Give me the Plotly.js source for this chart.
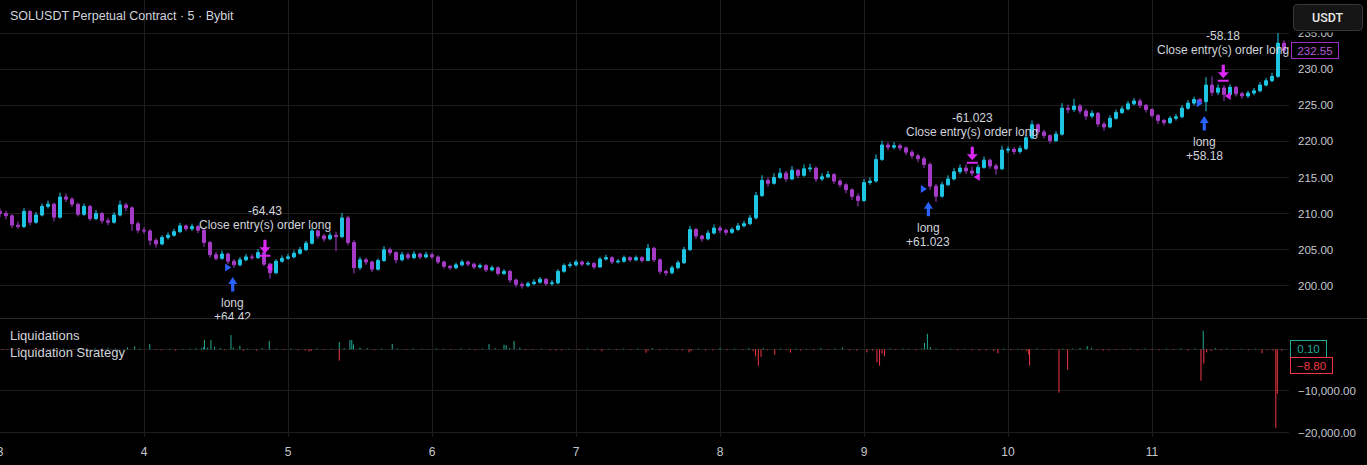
<!DOCTYPE html>
<html><head><meta charset="utf-8">
<script src="https://cdn.plot.ly/plotly-3.0.1.min.js"></script>
<style>html,body{margin:0;padding:0;background:#000;}#chart{width:1367px;height:465px;}</style>
</head><body><div id="chart"></div>
<script>
// ---------- DATA ----------
const chartTitle = 'SOLUSDT Perpetual Contract · 5 · Bybit';
const dayTicks = [3,4,5,6,7,8,9,10,11];
const dayTickText = ['3','4','5','6','7','8','9','10','11'];
const priceTicks = [200,205,210,215,220,225,230,235];
const liqTicks = [0,-10000,-20000];
const liqTickText = ['','−10,000.00','−20,000.00'];

// hourly candles starting on day 3
const startDay = 3;
const firstOpen = 210.3;
const closeD3 = [210.0,209.7,208.4,208.2,210.3,208.8,209.8,211.0,211.3,209.5,212.3,212.0,211.3,209.9,211.0,209.3,210.0,209.0,208.8,209.8,211.2,210.8,208.6,207.7];
const highD3  = [210.7,210.4,209.9,208.9,210.8,210.5,210.2,211.4,211.8,211.5,212.9,212.8,212.3,211.5,211.4,211.2,210.5,210.2,209.4,210.2,211.8,211.5,211.0,208.9];
const lowD3   = [209.5,209.2,208.0,207.9,208.0,208.4,208.6,209.6,210.7,208.9,209.3,211.6,210.9,209.6,209.7,209.0,209.1,208.6,208.4,208.6,209.6,210.3,207.6,207.3];
const closeD4 = [207.6,206.3,205.8,206.7,207.0,207.5,208.3,207.9,208.2,207.7,206.0,204.3,203.8,204.4,203.4,202.9,203.6,204.0,203.9,204.6,203.0,201.8,203.4,203.8];
const highD4  = [208.1,207.8,206.6,207.0,207.4,207.9,208.7,208.5,208.6,208.4,208.0,206.2,204.7,204.9,204.6,203.7,204.0,204.4,204.4,205.1,204.8,203.2,203.7,204.2];
const lowD4   = [207.2,205.6,205.3,205.6,206.4,206.8,207.3,207.6,207.6,207.3,205.4,203.9,203.5,203.6,203.0,202.5,202.7,203.4,203.6,203.7,202.7,201.0,201.6,203.2];
const closeD5 = [204.0,204.5,205.0,205.9,207.6,206.9,206.5,207.0,206.8,209.4,206.0,202.5,203.6,203.3,202.3,203.5,205.0,204.6,203.6,204.3,203.9,204.4,204.0,204.3];
const highD5  = [204.4,204.9,205.4,206.2,208.0,207.8,207.2,207.4,207.5,210.1,209.7,206.3,204.0,203.9,203.5,203.8,205.5,205.3,204.8,204.7,204.6,204.8,204.6,204.7];
const lowD5   = [203.6,203.8,204.3,204.8,205.7,206.5,206.1,206.3,204.8,206.6,205.6,201.7,202.2,202.9,201.9,202.1,203.3,204.2,203.1,203.4,203.6,203.7,203.7,203.8];
const closeD6 = [204.0,203.3,202.7,202.5,202.9,203.3,203.0,202.6,202.8,202.2,202.5,201.7,202.0,200.8,200.2,200.0,200.3,200.5,200.9,200.3,200.4,202.0,202.8,202.9];
const highD6  = [204.6,204.2,203.5,202.9,203.2,203.6,203.5,203.2,203.1,203.0,202.8,202.7,202.3,202.2,201.0,200.5,200.6,200.9,201.2,201.1,200.8,202.3,203.1,203.3];
const lowD6   = [203.7,203.0,202.4,202.2,202.3,202.7,202.7,202.3,202.4,201.9,202.0,201.4,201.5,200.4,199.8,199.6,199.8,200.1,200.3,200.0,200.0,200.2,201.8,202.5];
const closeD7 = [203.3,203.0,203.1,202.6,203.7,203.9,203.3,203.4,203.9,203.6,203.9,203.5,205.2,203.6,202.0,201.8,202.5,203.2,205.0,207.8,206.9,206.5,207.3,208.0];
const highD7  = [203.6,203.5,203.4,203.3,204.0,204.3,204.1,203.7,204.2,204.1,204.2,204.1,205.8,205.4,203.8,202.2,202.8,203.5,205.4,208.3,208.0,207.1,207.7,208.5];
const lowD7   = [202.7,202.7,202.8,202.3,202.5,203.5,203.0,203.1,203.2,203.3,203.4,203.2,203.4,203.3,201.6,201.4,201.6,202.3,203.0,204.8,206.5,206.1,206.3,207.1];
const closeD8 = [207.7,207.4,207.8,208.3,208.6,209.4,212.5,214.6,214.2,215.0,215.6,214.8,216.0,215.3,216.2,216.3,214.8,215.1,215.4,214.5,214.0,213.3,212.4,211.8];
const highD8  = [208.3,207.9,208.1,208.7,209.0,209.8,213.0,215.3,215.0,215.6,216.3,215.9,216.6,216.2,216.8,216.9,216.5,215.6,215.9,215.6,214.8,214.2,213.5,212.8];
const lowD8   = [207.3,207.0,207.2,207.6,208.1,208.4,209.2,212.3,213.7,214.0,214.8,214.4,214.6,214.9,215.1,215.8,214.4,214.5,214.9,214.1,213.6,212.8,211.9,211.0];
const closeD9 = [214.3,214.5,217.5,219.5,219.2,219.4,219.1,218.5,218.0,217.6,216.8,213.8,212.4,214.0,214.8,215.8,216.3,215.9,215.6,216.4,217.4,216.6,216.2,218.8];
const highD9  = [214.8,215.0,218.2,220.1,219.9,219.9,219.7,219.3,218.8,218.3,217.9,217.1,214.1,214.4,215.3,216.3,216.8,216.8,216.5,216.8,217.9,217.6,216.9,219.4];
const lowD9   = [211.6,214.0,214.3,217.3,218.8,218.9,218.7,218.1,217.6,217.1,216.3,213.3,211.6,212.2,213.8,214.6,215.5,215.5,215.2,215.4,216.2,216.2,215.4,216.0];
const closeD10 = [218.9,218.6,219.0,220.5,222.3,221.3,220.8,220.1,221.0,224.6,224.4,224.9,224.2,223.5,223.9,222.4,222.0,223.2,224.0,224.5,225.2,225.6,225.0,224.4];
const highD10  = [219.3,219.2,219.4,220.9,222.9,222.5,221.6,221.0,221.4,225.3,225.1,225.9,225.2,224.5,224.3,224.1,222.7,223.6,224.4,224.9,225.6,226.0,225.9,225.2];
const lowD10   = [218.4,218.2,218.3,218.8,220.3,220.9,220.4,219.7,219.9,220.8,223.9,224.1,223.8,223.0,223.2,222.0,221.5,221.8,223.0,223.8,224.3,225.0,224.6,224.0];
const closeD11 = [223.6,222.9,222.6,223.2,223.4,224.6,225.3,225.8,225.5,227.8,226.8,227.4,226.5,227.5,226.6,226.3,226.7,227.0,227.8,228.4,229.0,233.6,232.55];
const highD11  = [224.6,223.8,223.1,223.5,223.8,225.0,225.7,226.2,226.0,228.9,229.0,227.9,227.8,227.9,227.7,226.9,227.0,227.4,228.2,228.8,229.5,235.0,234.0];
const lowD11   = [223.3,222.4,222.2,222.4,222.9,223.2,224.4,225.0,225.1,224.2,226.3,226.4,225.6,226.2,226.2,225.9,226.0,226.4,226.8,227.6,228.2,228.8,232.0];

// strategy trades
const tradeEntryDay   = [4.616, 9.447, 11.363];
const tradeEntryPrice = [202.55, 213.41, 225.28];
const tradeEntryLow   = [201.22, 211.65, 223.52];
const tradeEntryText  = ['+64.42', '+61.023', '+58.18'];
const tradeExitDay    = [4.840, 9.752, 11.495];
const tradeExitPrice  = [202.56, 215.07, 226.29];
const tradeExitHigh   = [204.17, 217.05, 228.41];
const tradeExitText   = ['-64.43', '-61.023', '-58.18'];

// liquidations (lower pane)
const liqDay = [
 3.02,3.05,3.09,3.12,3.16,3.20,3.24,3.27,3.30,3.35,
 3.38,3.44,3.50,3.55,3.60,3.66,3.70,3.75,3.80,3.885,
 3.935,3.97,4.04,4.08,4.12,4.18,4.22,4.27,4.32,4.36,
 4.40,4.415,4.42,4.44,4.465,4.49,4.53,4.56,4.604,4.62,
 4.666,4.69,4.72,4.78,4.82,4.87,4.92,4.97,5.02,5.07,
 5.12,5.146,5.16,5.20,5.25,5.30,5.356,5.356,5.39,5.43,
 5.443,5.455,5.50,5.55,5.60,5.65,5.724,5.76,5.82,5.87,
 5.93,5.98,6.03,6.08,6.13,6.20,6.26,6.30,6.35,6.396,
 6.44,6.50,6.515,6.54,6.57,6.61,6.65,6.70,6.76,6.82,
 6.86,6.90,6.95,7.02,7.08,7.13,7.18,7.23,7.28,7.33,
 7.38,7.43,7.486,7.50,7.53,7.58,7.63,7.70,7.74,7.785,
 7.80,7.85,7.90,7.95,8.00,8.05,8.10,8.16,8.20,8.23,
 8.247,8.266,8.285,8.30,8.33,8.38,8.42,8.46,8.49,8.53,
 8.56,8.60,8.65,8.70,8.75,8.80,8.85,8.90,8.95,9.02,
 9.06,9.09,9.108,9.125,9.142,9.18,9.22,9.27,9.31,9.36,
 9.40,9.42,9.44,9.46,9.50,9.55,9.60,9.65,9.70,9.75,
 9.80,9.85,9.90,9.93,9.97,10.02,10.07,10.10,10.13,10.144,
 10.15,10.20,10.25,10.30,10.354,10.38,10.414,10.45,10.50,10.55,
 10.58,10.62,10.66,10.70,10.75,10.80,10.85,10.90,10.95,11.00,
 11.05,11.10,11.15,11.20,11.25,11.30,11.34,11.356,11.36,11.38,
 11.41,11.44,11.48,11.52,11.57,11.62,11.67,11.72,11.764,11.80,
 11.84,11.86,11.87,11.90,11.915];
const liqValue = [
 -150,-120,-200,-150,-300,-180,-250,-120,200,-200,
 150,180,-150,250,150,200,-120,300,200,480,
 720,200,1280,-150,-200,150,-300,150,200,250,
 300,600,2240,400,2240,640,300,-200,3440,400,
 880,-320,200,-320,250,2000,150,-150,200,-200,
 -300,-480,-400,200,-150,150,1760,-2720,300,2240,
 2240,1200,400,250,-200,200,1280,200,-150,200,
 150,-120,200,150,-150,200,150,-200,200,1280,
 250,1120,1000,300,2000,400,-200,-150,150,-200,
 -300,-250,150,-150,200,-200,-480,150,-200,150,
 -150,200,-800,-300,300,-200,150,-200,-300,-720,
 -400,200,-300,-250,300,-200,200,-150,300,-400,
 -1680,-3920,-1840,300,-200,-1280,200,-200,-800,200,
 -250,150,-200,300,-150,200,400,-250,-300,-720,
 -300,-3120,-3920,-1000,-1600,200,-150,200,150,-200,
 200,1520,3760,560,200,-150,200,-200,150,-200,
 -300,-250,-400,-960,200,-200,150,-200,-400,-1280,
 -3920,200,-150,150,-10400,200,-4880,200,300,800,
 300,-200,-300,-250,-150,-150,200,-200,200,-150,
 -200,200,-150,250,-300,200,-7530,4480,-3440,-720,
 -400,300,-200,200,-150,150,-200,150,-960,-200,
 -300,-18900,-10700,-300,100];
const liqLastPos = '0.10';
const liqLastNeg = '−8.80';

// ---------- STYLE ----------
const UP = '#1fc6e4', DOWN = '#a53cc8';
const GREEN = '#22ab94', RED = '#f23645';
const BLUE = '#2962ff', MAGENTA = '#dc28f4';
const GRID = '#1e1e1e', TXT = '#d1d4dc', AX = '#c6c8ce';
const FONT = 'Liberation Sans, Arial, sans-serif';
const W = 1367, H = 465, PLOT_W = 1289, PLOT_H = 437;
const pxX = x => x / PLOT_W;
const pxY = p => (PLOT_H - p) / PLOT_H;

// ---------- BUILD ----------
const close = [].concat(closeD3,closeD4,closeD5,closeD6,closeD7,closeD8,closeD9,closeD10,closeD11);
const high  = [].concat(highD3,highD4,highD5,highD6,highD7,highD8,highD9,highD10,highD11);
const low   = [].concat(lowD3,lowD4,lowD5,lowD6,lowD7,lowD8,lowD9,lowD10,lowD11);
const open = close.map((c,i) => i === 0 ? firstOpen : close[i-1]);
const times = close.map((c,i) => startDay + i/24);

const gX=[], gY=[], rX=[], rY=[];
liqDay.forEach((d,i) => {
  const v = liqValue[i];
  if (v >= 0) { gX.push(d,d,null); gY.push(0,v,null); }
  else { rX.push(d,d,null); rY.push(0,v,null); }
});

const traces = [
  {type:'candlestick', x:times, open:open, high:high, low:low, close:close,
   xaxis:'x', yaxis:'y',
   increasing:{line:{color:UP,width:1}, fillcolor:UP},
   decreasing:{line:{color:DOWN,width:1}, fillcolor:DOWN},
   hoverinfo:'skip'},
  {type:'scatter', mode:'lines', x:gX, y:gY, xaxis:'x', yaxis:'y2',
   line:{color:GREEN,width:1}, connectgaps:false, hoverinfo:'skip'},
  {type:'scatter', mode:'lines', x:rX, y:rY, xaxis:'x', yaxis:'y2',
   line:{color:RED,width:1}, connectgaps:false, hoverinfo:'skip'}
];

function roundRectPath(x0,y0,x1,y1,r){
  const P=(x,y)=>pxX(x).toFixed(6)+','+pxY(y).toFixed(6);
  return 'M'+P(x0+r,y0)+'L'+P(x1-r,y0)+'Q'+P(x1,y0)+' '+P(x1,y0+r)+'L'+P(x1,y1-r)+
    'Q'+P(x1,y1)+' '+P(x1-r,y1)+'L'+P(x0+r,y1)+'Q'+P(x0,y1)+' '+P(x0,y1-r)+
    'L'+P(x0,y0+r)+'Q'+P(x0,y0)+' '+P(x0+r,y0)+'Z';
}

const ENTRY_MARK  = 'M-1.5,0L-7.5,4L-7.5,-4Z';
const ENTRY_ARROW = 'M0,0L4.5,-7L1.6,-7L1.6,-14.5L-1.6,-14.5L-1.6,-7L-4.5,-7Z';
const EXIT_MARK   = 'M1.5,0L7.5,4L7.5,-4Z';
const EXIT_ARROW  = 'M0,2.5L5.5,8.5L1.6,8.5L1.6,16L-1.6,16L-1.6,8.5L-5.5,8.5ZM-5.5,-1L5.5,-1L5.5,1L-5.5,1Z';
function pixShape(day, price, path, color){
  return {type:'path', xref:'x', yref:'y', xsizemode:'pixel', ysizemode:'pixel',
          xanchor:day, yanchor:price, path:path, fillcolor:color, line:{width:0}, layer:'above'};
}

const shapes = [
  {type:'line', xref:'paper', yref:'paper', x0:0, x1:W/PLOT_W, y0:pxY(318.5), y1:pxY(318.5),
   line:{color:'#2a2a2a', width:1}, layer:'above'},
  {type:'rect', xref:'paper', yref:'paper', x0:pxX(1289.5), x1:pxX(1368), y0:pxY(32.5), y1:pxY(-2),
   fillcolor:'#000', line:{width:0}, layer:'above'},
  {type:'path', xref:'paper', yref:'paper', path:roundRectPath(1293.5,4.5,1362.5,30.5,4),
   fillcolor:'#151515', line:{color:'#3a3a3a', width:1}, layer:'above'}
];
const annotations = [
  {xref:'paper', yref:'paper', x:pxX(8), y:pxY(16), xanchor:'left', yanchor:'middle', showarrow:false,
   text:chartTitle, font:{family:FONT, size:12.5, color:TXT}},
  {xref:'paper', yref:'paper', x:pxX(8), y:pxY(335.5), xanchor:'left', yanchor:'middle', showarrow:false,
   text:'Liquidations', font:{family:FONT, size:13, color:TXT}},
  {xref:'paper', yref:'paper', x:pxX(8), y:pxY(352.5), xanchor:'left', yanchor:'middle', showarrow:false,
   text:'Liquidation Strategy', font:{family:FONT, size:13, color:TXT}},
  {xref:'paper', yref:'paper', x:pxX(1328), y:pxY(17.5), xanchor:'center', yanchor:'middle', showarrow:false,
   text:'USDT', font:{family:'Roboto, sans-serif', size:12.5, color:'#e8e8e8', weight:500}},
  {xref:'paper', yref:'y', x:1, y:close[close.length-1], xanchor:'left', yanchor:'middle', xshift:2, showarrow:false,
   text:close[close.length-1].toFixed(2), width:44, height:13, borderpad:1, bgcolor:'#000',
   bordercolor:'#9c2cc4', borderwidth:1, font:{family:FONT, size:11.5, color:'#b95ad9'}},
  {xref:'paper', yref:'y2', x:1, y:0, xanchor:'left', yanchor:'middle', xshift:1, showarrow:false,
   text:liqLastPos, width:33, height:14, borderpad:1, bgcolor:'#000',
   bordercolor:GREEN, borderwidth:1, font:{family:FONT, size:11.5, color:GREEN}},
  {xref:'paper', yref:'y2', x:1, y:0, xanchor:'left', yanchor:'middle', xshift:1, yshift:-16.5, showarrow:false,
   text:liqLastNeg, width:39, height:13, borderpad:1, bgcolor:'#000',
   bordercolor:RED, borderwidth:1, font:{family:FONT, size:11.5, color:RED}}
];

tradeEntryDay.forEach((d,i) => {
  shapes.push(pixShape(d, tradeEntryPrice[i], ENTRY_MARK, BLUE));
  shapes.push(pixShape(d, tradeEntryLow[i], ENTRY_ARROW, BLUE));
  annotations.push({xref:'x', yref:'y', x:d, y:tradeEntryLow[i], yshift:-26.5, showarrow:false,
    xanchor:'center', yanchor:'middle', text:'long', font:{family:FONT, size:12, color:TXT}});
  annotations.push({xref:'x', yref:'y', x:d, y:tradeEntryLow[i], yshift:-40.5, showarrow:false,
    xanchor:'center', yanchor:'middle', text:tradeEntryText[i], font:{family:FONT, size:12, color:TXT}});
});
tradeExitDay.forEach((d,i) => {
  shapes.push(pixShape(d, tradeExitPrice[i], EXIT_MARK, MAGENTA));
  shapes.push(pixShape(d, tradeExitHigh[i], EXIT_ARROW, MAGENTA));
  annotations.push({xref:'x', yref:'y', x:d, y:tradeExitHigh[i], yshift:31, showarrow:false,
    xanchor:'center', yanchor:'middle', text:'Close entry(s) order long', font:{family:FONT, size:12, color:TXT}});
  annotations.push({xref:'x', yref:'y', x:d, y:tradeExitHigh[i], yshift:45, showarrow:false,
    xanchor:'center', yanchor:'middle', text:tradeExitText[i], font:{family:FONT, size:12, color:TXT}});
});
// the upper pane clips text that runs past its bottom edge
annotations.push({xref:'paper', yref:'paper', x:pxX(232), y:pxY(319.2), xanchor:'center', yanchor:'top',
  showarrow:false, text:' ', width:60, height:12, borderpad:0, bgcolor:'#000'});

const layout = {
  width:W, height:H,
  paper_bgcolor:'#000', plot_bgcolor:'#000',
  margin:{l:0, r:W-PLOT_W, t:0, b:H-PLOT_H, pad:0},
  showlegend:false,
  font:{family:FONT, size:11.5, color:AX},
  xaxis:{range:[startDay, startDay + PLOT_W/144], anchor:'y2', tickmode:'array', tickvals:dayTicks, ticktext:dayTickText,
         showgrid:true, gridcolor:GRID, gridwidth:1, zeroline:false, showline:false, ticks:'',
         ticklabeloverflow:'allow', ticklabelstandoff:6,
         rangeslider:{visible:false}, tickfont:{family:FONT, size:12, color:AX}},
  yaxis:{domain:[pxY(318), 1], range:[195.54, 239.58], side:'right', anchor:'x',
         tickmode:'array', tickvals:priceTicks, ticktext:priceTicks.map(v=>v.toFixed(2)),
         showgrid:true, gridcolor:GRID, zeroline:false, showline:false, ticks:'', ticklabelstandoff:8,
         tickfont:{family:FONT, size:11.5, color:AX}},
  yaxis2:{domain:[0, pxY(320)], range:[-21082, 7067], side:'right', anchor:'x',
         tickmode:'array', tickvals:liqTicks, ticktext:liqTickText,
         showgrid:true, gridcolor:GRID, zeroline:false, showline:false, ticks:'', ticklabelstandoff:8,
         tickfont:{family:FONT, size:11.5, color:AX}},
  shapes:shapes,
  annotations:annotations
};

Plotly.newPlot('chart', traces, layout, {staticPlot:true, displayModeBar:false});
</script></body></html>
